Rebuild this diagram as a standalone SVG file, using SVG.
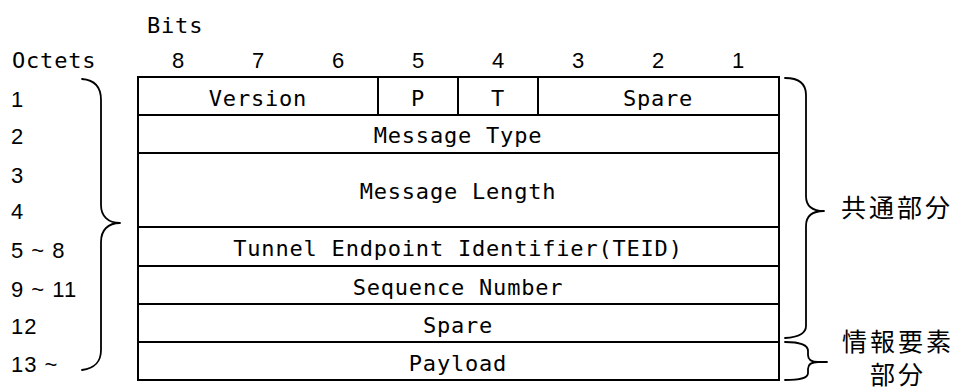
<svg xmlns="http://www.w3.org/2000/svg" width="957" height="390" viewBox="0 0 957 390">
<style>
.bg{fill:#fff}
.tbl{fill:none;stroke:#000;stroke-width:2}
.br{fill:none;stroke:#000;stroke-width:1.8;stroke-linecap:round;stroke-linejoin:round}
.m{font-family:"DejaVu Sans Mono","Liberation Mono",monospace;font-size:22px;letter-spacing:0.8px;fill:#000}
.c{text-anchor:middle}
.n{font-family:"Liberation Sans",Arial,sans-serif;font-size:22px;fill:#000}
.o{font-family:"Liberation Sans",Arial,sans-serif;font-size:22px;letter-spacing:1px;fill:#000}
.j{font-family:"Noto Sans CJK JP","Noto Sans CJK SC",sans-serif;font-size:25px;letter-spacing:3px;fill:#000}
</style>
<rect class="bg" x="0" y="0" width="957" height="390"/>

<g id="header">
  <text class="m" x="147" y="33">Bits</text>
  <text class="m" x="12" y="68">Octets</text>
  <g class="n c">
    <text x="178" y="68">8</text>
    <text x="258" y="68">7</text>
    <text x="338" y="68">6</text>
    <text x="418" y="68">5</text>
    <text x="498" y="68">4</text>
    <text x="578" y="68">3</text>
    <text x="658" y="68">2</text>
    <text x="738" y="68">1</text>
  </g>
</g>

<g id="octet-numbers">
  <text class="o" x="11" y="107">1</text>
  <text class="o" x="11" y="144">2</text>
  <text class="o" x="11" y="183">3</text>
  <text class="o" x="11" y="219">4</text>
  <text class="o" x="11" y="258">5 ~ 8</text>
  <text class="o" x="11" y="297">9 ~ 11</text>
  <text class="o" x="11" y="334">12</text>
  <text class="o" x="11" y="372">13 ~</text>
</g>

<g id="table">
  <rect class="tbl" x="138" y="77" width="641" height="303"/>
  <path class="tbl" d="M138,115H779M138,153H779M138,227H779M138,266H779M138,304H779M138,342H779M378,77V115M458,77V115M538,77V115"/>
</g>

<g id="row1">
  <text class="m c" x="258" y="106">Version</text>
  <text class="m c" x="418" y="106">P</text>
  <text class="m c" x="498" y="106">T</text>
  <text class="m c" x="658" y="106">Spare</text>
</g>
<g id="row2"><text class="m c" x="458" y="143">Message Type</text></g>
<g id="row3"><text class="m c" x="458" y="199">Message Length</text></g>
<g id="row4"><text class="m c" x="458" y="256">Tunnel Endpoint Identifier(TEID)</text></g>
<g id="row5"><text class="m c" x="458" y="295">Sequence Number</text></g>
<g id="row6"><text class="m c" x="458" y="333">Spare</text></g>
<g id="row7"><text class="m c" x="458" y="371">Payload</text></g>

<g id="connectors">
  <path class="br" d="M82,79 C95,80 101,88 101,100 L101,205 C101,216 108,223 120,223 C108,223 101,230 101,242 L101,350 C101,362 95,368 82,370"/>
  <path class="br" d="M785,78 C799,78 806,84 806,95 L806,196 C806,206 812,211 824,211 C812,211 806,216 806,226 L806,326 C806,333 800,337 785,338"/>
  <path class="br" d="M785,342 C801,342 808,345 808,351 L808,355 C808,360 812,362 818,362 L827,362 M818,362 C812,362 808,364 808,369 L808,373 C808,378 801,380 785,380"/>
</g>

<g id="label-common"><text class="j" x="841" y="217">共通部分</text></g>
<g id="label-ie">
  <text class="j" x="842" y="351">情報要素</text>
  <text class="j c" x="898" y="384">部分</text>
</g>
</svg>
